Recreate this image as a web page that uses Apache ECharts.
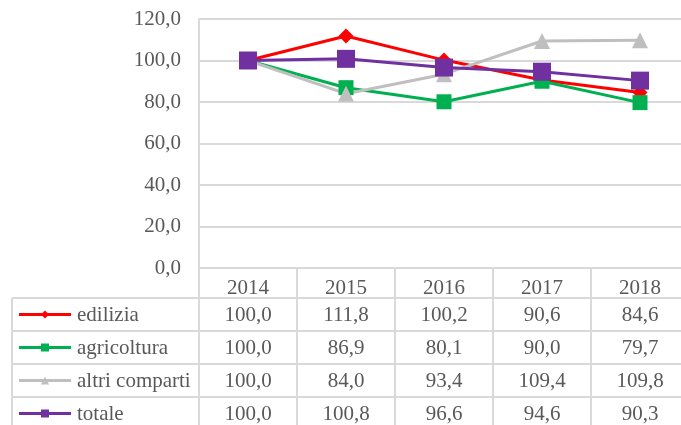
<!DOCTYPE html>
<html>
<head>
<meta charset="utf-8">
<script src="https://cdn.jsdelivr.net/npm/echarts@6/dist/echarts.min.js"></script>
<style>
    html, body { margin: 0; padding: 0; background: #ffffff; }
    #chart { width: 681px; height: 425px; }
</style>
</head>
<body>
<div id="chart"></div>
<script>
var years = ['2014', '2015', '2016', '2017', '2018'];
var edilizia = [100.0, 111.8, 100.2, 90.6, 84.6];
var agricoltura = [100.0, 86.9, 80.1, 90.0, 79.7];
var altriComparti = [100.0, 84.0, 93.4, 109.4, 109.8];
var totale = [100.0, 100.8, 96.6, 94.6, 90.3];
var yTicks = [0, 20, 40, 60, 80, 100, 120];

var names = ['edilizia', 'agricoltura', 'altri comparti', 'totale'];
var colors = ['#ff0000', '#00b050', '#bfbfbf', '#7030a0'];
var symbols = ['diamond', 'rect', 'triangle', 'rect'];
var symbolSizes = [15, 15, 16, 18];
var rows = [edilizia, agricoltura, altriComparti, totale];

var gridColor = '#d9d9d9';
var textColor = '#595959';
var font = 'Liberation Serif, serif';

function fmt(v) {
    return v.toFixed(1).replace('.', ',');
}

var myChart = echarts.init(document.getElementById('chart'));

var series = [];
for (var i = 0; i < rows.length; i++) {
    series.push({
        name: names[i],
        type: 'line',
        data: rows[i],
        symbol: symbols[i],
        symbolSize: symbolSizes[i],
        showAllSymbol: true,
        itemStyle: {color: colors[i]},
        lineStyle: {color: colors[i], width: 3},
        animation: false
    });
}

var option = {
    animation: false,
    grid: {
        left: 199,
        width: 490,
        top: 19,
        bottom: 157,
        containLabel: false,
        outerBoundsMode: 'none'
    },
    xAxis: {
        type: 'category',
        data: years,
        boundaryGap: true,
        axisLine: {lineStyle: {color: gridColor, width: 2}},
        axisTick: {show: true, interval: 0, length: 30, lineStyle: {color: gridColor, width: 2}},
        axisLabel: {
            interval: 0,
            margin: 10,
            color: textColor,
            fontFamily: font,
            fontSize: 21
        }
    },
    yAxis: {
        type: 'value',
        min: yTicks[0],
        max: yTicks[yTicks.length - 1],
        interval: yTicks[1] - yTicks[0],
        axisLine: {show: true, lineStyle: {color: gridColor, width: 2}},
        axisTick: {show: false},
        splitLine: {lineStyle: {color: gridColor, width: 2}},
        axisLabel: {
            margin: 18,
            color: textColor,
            fontFamily: font,
            fontSize: 21,
            formatter: function (v) {
                return fmt(v);
            }
        }
    },
    series: series
};

myChart.setOption(option);

// tabella dati sotto il grafico
function buildTable() {
    var graphic = [];
    var x0 = myChart.convertToPixel({xAxisIndex: 0}, 0);
    var x1 = myChart.convertToPixel({xAxisIndex: 0}, 1);
    var cellW = x1 - x0;
    var leftEdge = x0 - cellW / 2;
    var tableLeft = 12;
    var tableRight = leftEdge + cellW * years.length;
    var headerBottom = 298;
    var rowH = 33;
    var line = {stroke: gridColor, lineWidth: 2};

    for (var r = 0; r <= rows.length; r++) {
        var y = headerBottom + r * rowH;
        graphic.push({
            type: 'line',
            shape: {x1: tableLeft, y1: y, x2: tableRight, y2: y},
            style: line,
            silent: true
        });
    }
    graphic.push({
        type: 'line',
        shape: {x1: tableLeft, y1: headerBottom, x2: tableLeft, y2: 440},
        style: line,
        silent: true
    });
    for (var c = 0; c <= years.length; c++) {
        var xb = leftEdge + c * cellW;
        graphic.push({
            type: 'line',
            shape: {x1: xb, y1: headerBottom, x2: xb, y2: 440},
            style: line,
            silent: true
        });
    }

    for (var i = 0; i < rows.length; i++) {
        var cy = headerBottom + i * rowH + rowH / 2 + 1;
        // legenda
        graphic.push({
            type: 'line',
            shape: {x1: 19, y1: cy - 1, x2: 71, y2: cy - 1},
            style: {stroke: colors[i], lineWidth: 3},
            silent: true
        });
        var ms = 8;
        var mk;
        if (symbols[i] === 'diamond') {
            mk = {type: 'polygon', shape: {points: [[45, cy - 1 - ms / 2], [45 + ms / 2, cy - 1], [45, cy - 1 + ms / 2], [45 - ms / 2, cy - 1]]}};
        } else if (symbols[i] === 'triangle') {
            mk = {type: 'polygon', shape: {points: [[45, cy - 1 - ms / 2], [45 + ms / 2, cy - 1 + ms / 2], [45 - ms / 2, cy - 1 + ms / 2]]}};
        } else {
            mk = {type: 'rect', shape: {x: 45 - ms / 2, y: cy - 1 - ms / 2, width: ms, height: ms}};
        }
        mk.style = {fill: colors[i]};
        mk.silent = true;
        graphic.push(mk);
        graphic.push({
            type: 'text',
            x: 77,
            y: cy,
            style: {
                text: names[i],
                fill: textColor,
                fontFamily: font,
                fontSize: 21,
                textAlign: 'left',
                textVerticalAlign: 'middle'
            },
            silent: true
        });
        for (var j = 0; j < years.length; j++) {
            graphic.push({
                type: 'text',
                x: myChart.convertToPixel({xAxisIndex: 0}, j),
                y: cy,
                style: {
                    text: fmt(rows[i][j]),
                    fill: textColor,
                    fontFamily: font,
                    fontSize: 21,
                    textAlign: 'center',
                    textVerticalAlign: 'middle'
                },
                silent: true
            });
        }
    }
    myChart.setOption({graphic: graphic});
}

buildTable();
</script>
</body>
</html>
